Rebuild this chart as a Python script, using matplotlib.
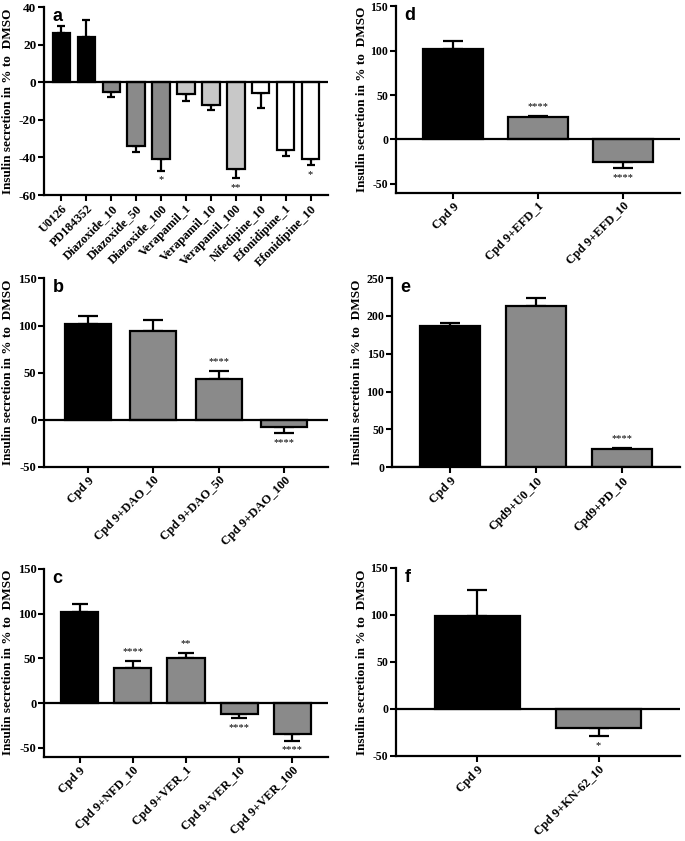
import numpy as np
import matplotlib
matplotlib.use("Agg")
import matplotlib.pyplot as plt

plt.rcParams['font.family'] = ['Liberation Serif', 'DejaVu Serif']
plt.rcParams['font.weight'] = 'bold'
plt.rcParams['axes.labelweight'] = 'bold'
plt.rcParams['axes.unicode_minus'] = False

BLACK = '#000000'
DARK = '#8a8a8a'
LIGHT = '#c8c8c8'
WHITE = '#ffffff'

# panel a
a_labels = ['U0126', 'PD184352', 'Diazoxide_10', 'Diazoxide_50', 'Diazoxide_100',
            'Verapamil_1', 'Verapamil_10', 'Verapamil_100', 'Nifedipine_10',
            'Efonidipine_1', 'Efonidipine_10']
a_vals = [26, 24, -5, -34, -41, -6.5, -12, -46, -5.5, -36, -41]
a_errs = [4, 9, 3, 3, 6, 3.5, 2.5, 5, 8, 3.5, 3]
a_cols = [BLACK, BLACK, DARK, DARK, DARK, LIGHT, LIGHT, LIGHT, WHITE, WHITE, WHITE]
a_stars = ['', '', '', '', '*', '', '', '**', '', '', '*']

# panel b
b_labels = ['Cpd 9', 'Cpd 9+DAO_10', 'Cpd 9+DAO_50', 'Cpd 9+DAO_100']
b_vals = [102, 94, 43, -8]
b_errs = [8, 12, 9, 6]
b_cols = [BLACK, DARK, DARK, DARK]
b_stars = ['', '', '****', '****']

# panel c
c_labels = ['Cpd 9', 'Cpd 9+NFD_10', 'Cpd 9+VER_1', 'Cpd 9+VER_10', 'Cpd 9+VER_100']
c_vals = [102, 39.5, 50, -12, -35]
c_errs = [9, 7.5, 6, 5, 7]
c_cols = [BLACK, DARK, DARK, DARK, DARK]
c_stars = ['', '****', '**', '****', '****']

# panel d
d_labels = ['Cpd 9', 'Cpd 9+EFD_1', 'Cpd 9+EFD_10']
d_vals = [102, 25, -25]
d_errs = [8.5, 1.5, 7]
d_cols = [BLACK, DARK, DARK]
d_stars = ['', '****', '****']

# panel e
e_labels = ['Cpd 9', 'Cpd9+U0_10', 'Cpd9+PD_10']
e_vals = [186, 213, 24]
e_errs = [5, 10, 2]
e_cols = [BLACK, DARK, DARK]
e_stars = ['', '', '****']

# panel f
f_labels = ['Cpd 9', 'Cpd 9+KN-62_10']
f_vals = [98.5, -20.5]
f_errs = [27.5, 8.5]
f_cols = [BLACK, DARK]
f_stars = ['', '*']

fig = plt.figure(figsize=(6.85, 8.41), dpi=100)


def panel(rect, labels, vals, errs, cols, stars, ylim, yticks, letter,
          pad=0.67, cap=7.5, label_x=-0.11, tsize=9):
    ax = fig.add_axes(rect)
    x = np.arange(len(vals))
    vals = np.array(vals, dtype=float)
    errs = np.array(errs, dtype=float)
    up = np.where(vals >= 0, errs, 0)
    lo = np.where(vals < 0, errs, 0)
    ax.errorbar(x, vals, yerr=[lo, up], fmt='none', ecolor='black',
                elinewidth=1.6, capsize=cap, capthick=1.6, zorder=2)
    ax.bar(x, vals, width=0.7, color=cols, edgecolor='black', linewidth=1.6, zorder=3)
    ax.axhline(0, color='black', lw=1.6, zorder=4)
    off = 0.05 * (ylim[1] - ylim[0])
    for xi, v, e, s in zip(x, vals, errs, stars):
        if not s:
            continue
        y = v + e + off if v >= 0 else v - e - off
        ax.text(xi, y, s, ha='center', va='center', fontsize=7.5, fontweight='normal')
    ax.set_xlim(-pad, len(vals) - 1 + pad)
    ax.set_ylim(*ylim)
    ax.set_yticks(yticks)
    ax.set_xticks(x)
    ax.set_xticklabels(labels, rotation=45, ha='right', rotation_mode='anchor', fontsize=9)
    for s in ['top', 'right']:
        ax.spines[s].set_visible(False)
    for s in ['left', 'bottom']:
        ax.spines[s].set_linewidth(1.6)
    ax.tick_params(direction='out', length=4, width=1.5, pad=1.5)
    ax.tick_params(axis='y', labelsize=tsize)
    ax.set_ylabel('Insulin secretion in % to  DMSO', fontsize=9.5)
    ax.yaxis.set_label_coords(label_x, 0.5)
    ax.text(0.03, 0.995, letter, transform=ax.transAxes, ha='left', va='top',
            fontsize=13, fontweight='bold', family='Liberation Sans')
    return ax


panel([0.0642, 0.7681, 0.4146, 0.2235], a_labels, a_vals, a_errs, a_cols, a_stars,
      (-60, 40), [-60, -40, -20, 0, 20, 40], 'a', pad=0.7, cap=3, label_x=-0.105,
      tsize=9.5)
panel([0.0642, 0.4451, 0.4146, 0.2238], b_labels, b_vals, b_errs, b_cols, b_stars,
      (-50, 150), [-50, 0, 50, 100, 150], 'b', label_x=-0.105)
panel([0.0642, 0.1002, 0.4146, 0.2235], c_labels, c_vals, c_errs, c_cols, c_stars,
      (-60, 150), [-50, 0, 50, 100, 150], 'c', cap=5.5, label_x=-0.105)
panel([0.578, 0.7709, 0.4146, 0.2214], d_labels, d_vals, d_errs, d_cols, d_stars,
      (-60, 150), [-50, 0, 50, 100, 150], 'd', label_x=-0.1, tsize=8.5)
panel([0.5723, 0.4443, 0.4204, 0.2251], e_labels, e_vals, e_errs, e_cols, e_stars,
      (0, 250), [0, 50, 100, 150, 200, 250], 'e', label_x=-0.1, tsize=8.5)
panel([0.578, 0.1014, 0.4146, 0.2233], f_labels, f_vals, f_errs, f_cols, f_stars,
      (-50, 150), [-50, 0, 50, 100, 150], 'f', label_x=-0.1, tsize=8.5)

fig.savefig('out.png', dpi=100)
